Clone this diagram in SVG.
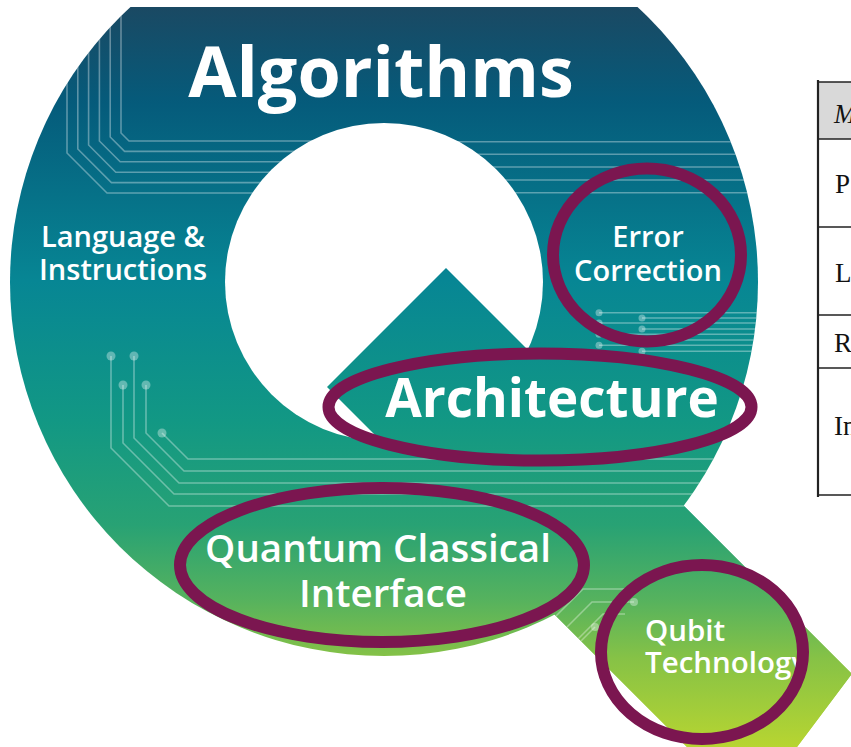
<svg xmlns="http://www.w3.org/2000/svg" width="851" height="747" viewBox="0 0 851 747">
<style>
.ln{fill:none;stroke:#ffffff;stroke-opacity:0.35;stroke-width:1.6}
.dot{fill:#ffffff;fill-opacity:0.35}
.ring{fill:none;stroke:#7b1650;stroke-width:12}
.lbl{font-family:"Open Sans","Liberation Sans",sans-serif;fill:#ffffff;font-weight:600}
.big{font-weight:700}
.tl{fill:none;stroke:#222222;stroke-width:1.5}
.tt{font-family:"Liberation Serif","Times New Roman",serif;font-size:27px;fill:#111111}
</style>
<defs>
<linearGradient id="qg" gradientUnits="userSpaceOnUse" x1="0" y1="7" x2="0" y2="747">
<stop offset="0" stop-color="#1a4963"/>
<stop offset="0.13" stop-color="#055b7b"/>
<stop offset="0.37" stop-color="#078694"/>
<stop offset="0.56" stop-color="#129884"/>
<stop offset="0.7" stop-color="#28a274"/>
<stop offset="0.8" stop-color="#55b25e"/>
<stop offset="0.88" stop-color="#86c246"/>
<stop offset="1" stop-color="#b7d531"/>
</linearGradient>
<clipPath id="top"><rect x="0" y="7" width="851" height="740"/></clipPath>
<clipPath id="circ"><circle cx="384" cy="282" r="374"/></clipPath>
<clipPath id="shape"><circle cx="384" cy="282" r="374"/><polygon points="446,268 851,673 851,675 797,747 687,747 327,387"/></clipPath>
</defs>

<g id="q-shape" clip-path="url(#top)">
<circle cx="384" cy="282" r="374" fill="url(#qg)"/>
<polygon points="446,268 851,673 851,675 797,747 687,747 327,387" fill="url(#qg)"/>
<g clip-path="url(#circ)">
<path class="ln" d="M121 0V133L129 141H400"/>
<path class="ln" d="M110.2 0V137L124.6 151.4H400"/>
<path class="ln" d="M99.4 0V141L120.2 161.8H400"/>
<path class="ln" d="M88.6 0V145L115.8 172.2H400"/>
<path class="ln" d="M77.8 0V149L111.4 182.6H400"/>
<path class="ln" d="M67 0V153L107 193H400"/>
<path class="ln" d="M400 141.7H800M400 154.3H800M400 167H800M400 180H800M400 192.7H800"/>
</g>
<circle cx="384" cy="282" r="159" fill="#ffffff"/>
<polygon points="446,268 851,673 851,675 797,747 687,747 327,387" fill="url(#qg)"/>
<g clip-path="url(#shape)">
<path class="ln" d="M111 356V448L169 506H800"/>
<path class="ln" d="M123 385V443L174 494H800"/>
<path class="ln" d="M134 356V438L179 483H800"/>
<path class="ln" d="M146 385V433L184 471H800"/>
<path class="ln" d="M162 433L188 459H800"/>
<circle class="dot" cx="111" cy="356" r="4.5"/>
<circle class="dot" cx="134" cy="356" r="4.5"/>
<circle class="dot" cx="123" cy="385" r="4.5"/>
<circle class="dot" cx="146" cy="385" r="4.5"/>
<circle class="dot" cx="162" cy="433" r="4.5"/>
<path class="ln" d="M599 312.7H800M599 323H800M599 334.3H800M599 345.3H800"/>
<path class="ln" d="M642 318H800M642 329H800M642 340H800M642 351.3H800"/>
<circle class="dot" cx="599" cy="312.7" r="3.5"/>
<circle class="dot" cx="599" cy="323" r="3.5"/>
<circle class="dot" cx="599" cy="334.3" r="3.5"/>
<circle class="dot" cx="599" cy="345.3" r="3.5"/>
<circle class="dot" cx="642" cy="318" r="3.5"/>
<circle class="dot" cx="642" cy="329" r="3.5"/>
<circle class="dot" cx="642" cy="340" r="3.5"/>
<circle class="dot" cx="642" cy="351.3" r="3.5"/>
<path class="ln" d="M630 589H583L545 627"/>
<path class="ln" d="M634 602H592L555 639"/>
<path class="ln" d="M625 614H603L570 647"/>
<path class="ln" d="M595 627L568 654"/>
<circle class="dot" cx="634" cy="602" r="4"/>
<circle class="dot" cx="595" cy="627" r="4"/>
</g>
</g>

<g id="algorithms">
<text class="lbl big" x="381" y="97" font-size="70" text-anchor="middle">Algorithms</text>
</g>
<g id="language">
<text class="lbl" x="123" y="247" font-size="29" text-anchor="middle">Language &amp;</text>
<text class="lbl" x="123" y="280" font-size="29" text-anchor="middle">Instructions</text>
</g>
<g id="error-correction">
<text class="lbl" x="648" y="247" font-size="29" text-anchor="middle">Error</text>
<text class="lbl" x="648" y="281" font-size="29" text-anchor="middle">Correction</text>
<ellipse class="ring" cx="647" cy="255" rx="94" ry="86.5"/>
</g>
<g id="architecture">
<text class="lbl big" x="552" y="417" font-size="53" text-anchor="middle">Architecture</text>
<ellipse class="ring" cx="540" cy="407" rx="211.5" ry="53.5"/>
</g>
<g id="qci">
<text class="lbl" x="378" y="562" font-size="38.5" text-anchor="middle">Quantum Classical</text>
<text class="lbl" x="383" y="607" font-size="38.5" text-anchor="middle">Interface</text>
<ellipse class="ring" cx="382" cy="565" rx="202" ry="77"/>
</g>
<g id="qubit">
<text class="lbl" x="645" y="641" font-size="29.5">Qubit</text>
<text class="lbl" x="645" y="673" font-size="29.5">Technology</text>
<ellipse class="ring" cx="702" cy="652" rx="101" ry="87"/>
</g>

<g id="table">
<rect x="818" y="82" width="40" height="57" fill="#d9d9d9"/>
<path class="tl" d="M818 82H851M818 139H851M818 227H851M818 315H851M818 368H851M818 495H851"/>
<path d="M818 80V497" stroke="#222222" stroke-width="2.2" fill="none"/>
<text class="tt" x="834" y="123" font-style="italic">M</text>
<text class="tt" x="835" y="193">P</text>
<text class="tt" x="835" y="282">L</text>
<text class="tt" x="834" y="352">R</text>
<text class="tt" x="834" y="435">In</text>
</g>
</svg>
